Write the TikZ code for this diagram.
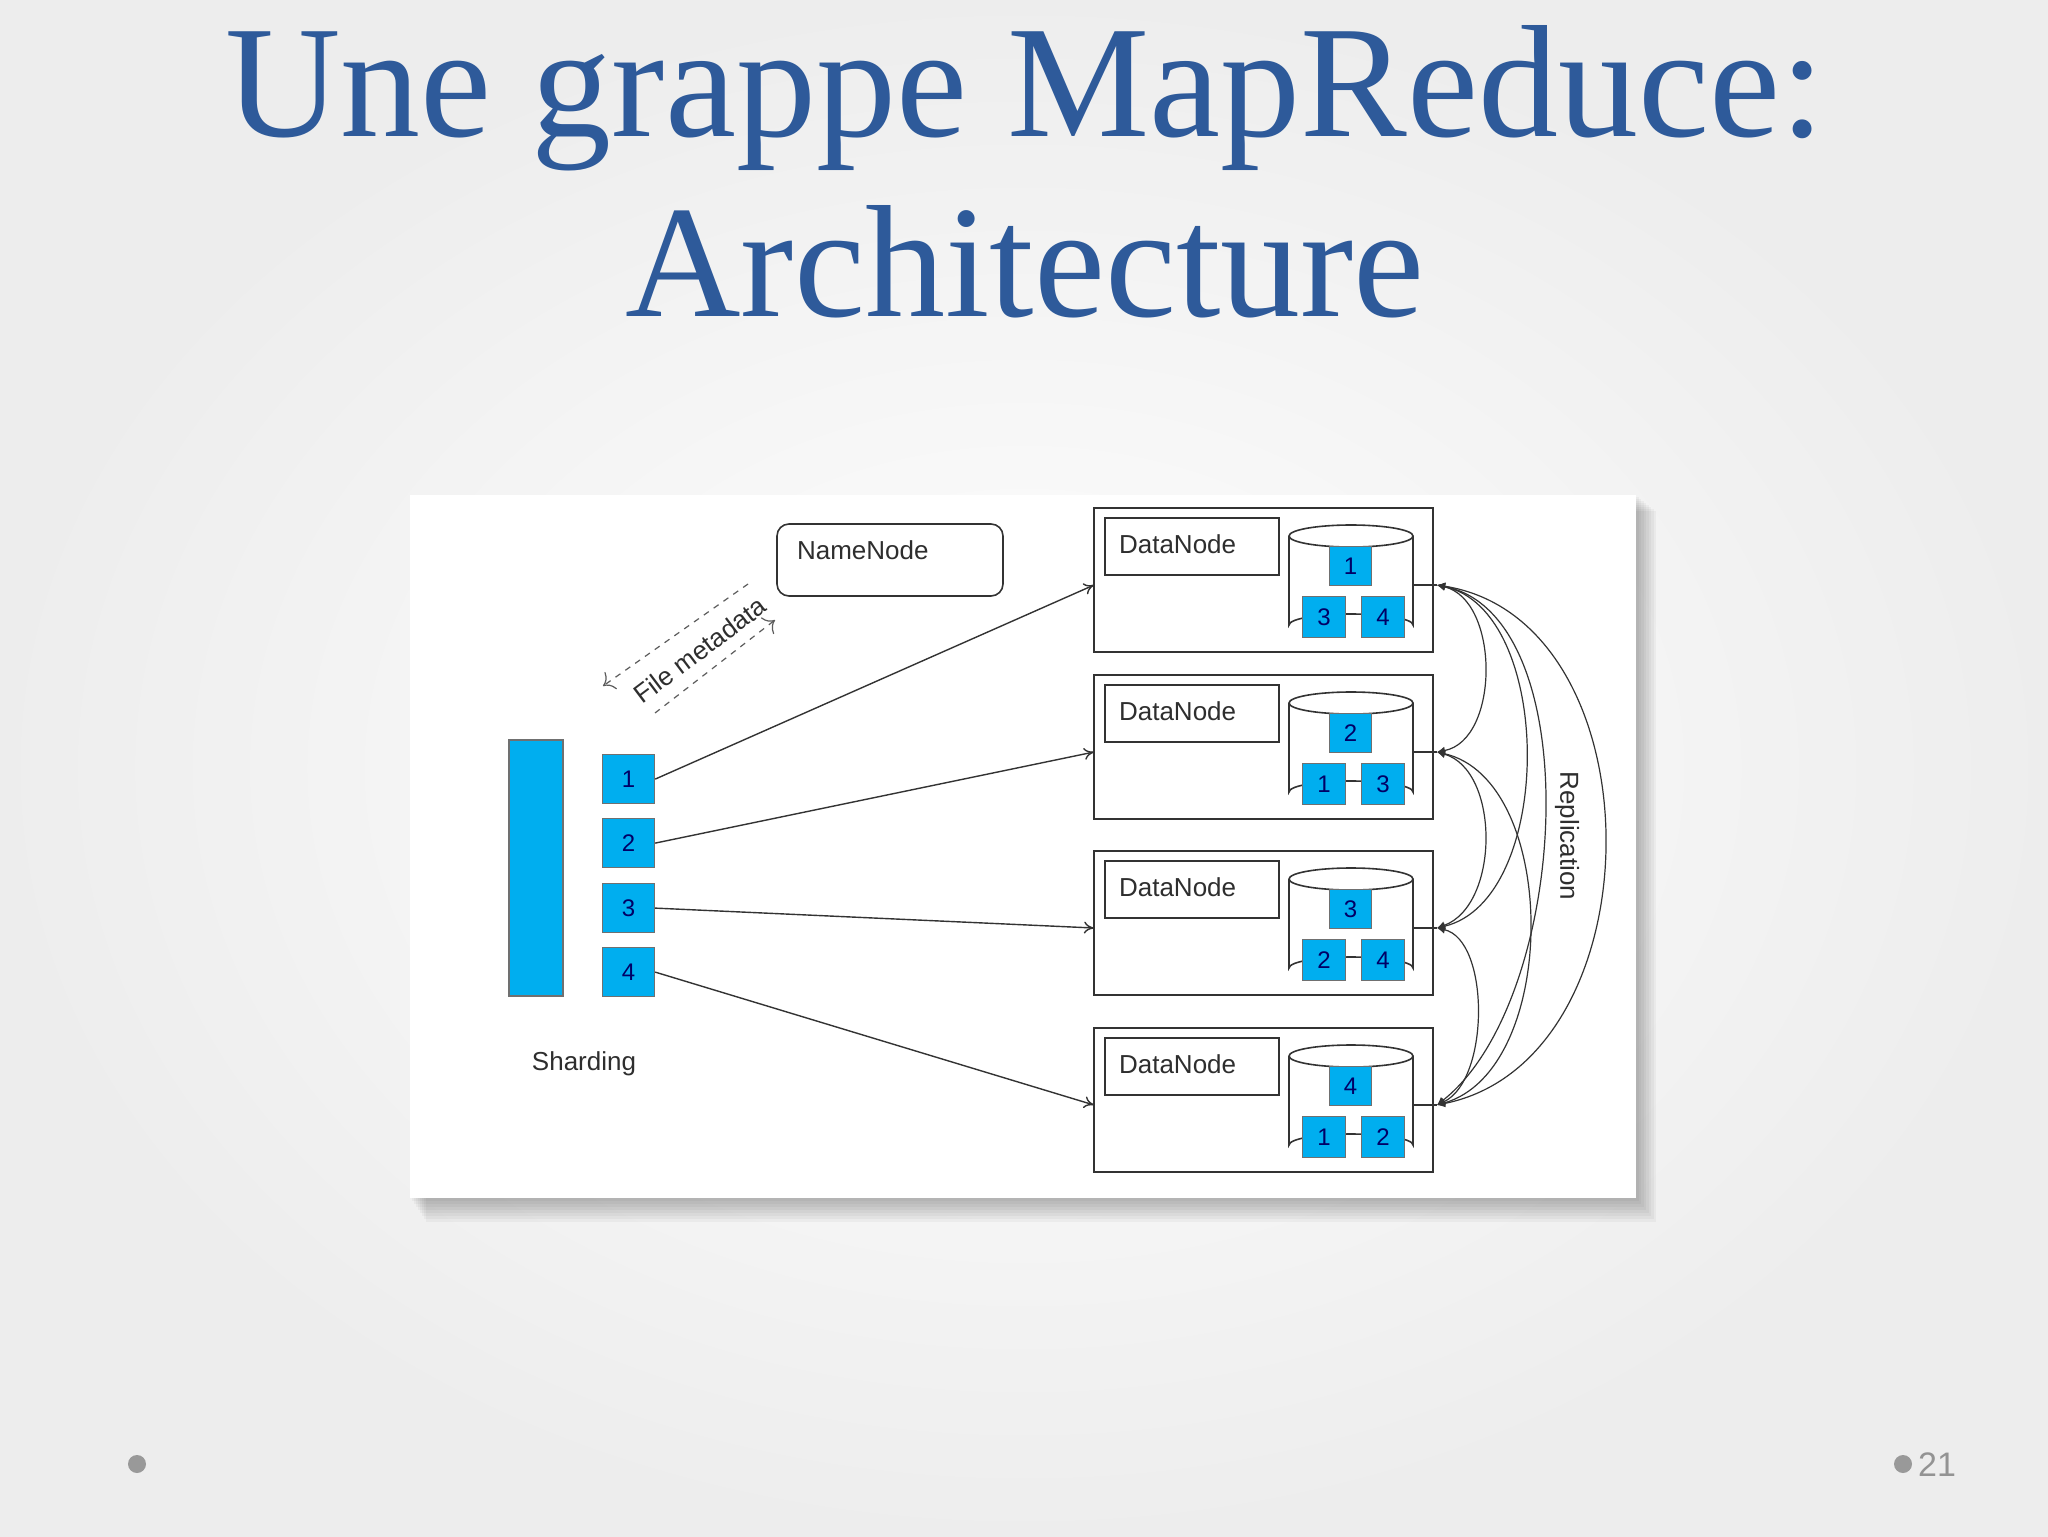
\documentclass[tikz,border=0pt]{standalone}
\usepackage{fontspec}
\setmainfont{Liberation Sans}
\newfontfamily\titlefont{Liberation Serif}
\usetikzlibrary{arrows.meta,shapes.geometric}
\definecolor{titleblue}{HTML}{2E5A9A}
\definecolor{shard}{HTML}{00AEEF}
\definecolor{ink}{HTML}{333333}
\tikzset{
  shardbox/.style={fill=shard,draw=ink!70,line width=0.6pt},
  dnbox/.style={draw=ink,line width=0.8pt},
  conn/.style={draw=ink,line width=0.7pt,-{To[length=5pt,width=6pt]}},
  rep/.style={draw=ink,line width=0.6pt,{Latex[length=4pt,width=4pt]}-{Latex[length=4pt,width=4pt]}},
  lbl/.style={font=\fontsize{13}{15}\selectfont,text=ink!90!black},
  num/.style={font=\fontsize{12}{14}\selectfont,text=blue!40!black}
}
\begin{document}
\begin{tikzpicture}[x=0.5pt,y=-0.5pt]
\useasboundingbox (0,0) rectangle (2048,1536);
\shade[inner color=white,outer color=gray!14] (0,0) rectangle (2048,1536);
% title
\node[font=\titlefont\fontsize{80}{82}\selectfont,text=titleblue] (t1) at (1025,98) {Une grappe MapReduce:};
\node[font=\titlefont\fontsize{80}{82}\selectfont,text=titleblue] (t2) at (1025,262) {Architecture};
% footer
\fill[gray!80] (137,1464) circle (9);
\fill[gray!80] (1903,1464) circle (9);
\node[font=\fontsize{17}{19}\selectfont,text=gray!85] (pg) at (1937,1465) {21};
% panel shadow
\foreach \i in {1,...,8}{\fill[black,opacity=0.035] (410+2*\i,495+2*\i) rectangle (1636+2.5*\i,1198+3*\i);}
\fill[white] (410,495) rectangle (1636,1198);
% sharding
\draw[shardbox] (509,740) rectangle (563,996);
\foreach \n/\y in {1/754,2/818,3/883,4/947}{
  \node[shardbox,minimum width=26pt,minimum height=24.5pt,inner sep=0,anchor=north west,num] (s\n) at (602,\y) {\n};
}
\node[lbl] (shl) at (584,1064) {Sharding};
% namenode
\draw[dnbox,rounded corners=6pt] (777,524) rectangle (1003,596);
\node[lbl,anchor=west] (nn) at (790,550) {NameNode};
% file metadata
\draw[dashed,draw=ink!80,line width=0.6pt,-{To[length=5pt]}] (748,584) -- (603,686);
\draw[dashed,draw=ink!80,line width=0.6pt,-{To[length=5pt]}] (655,713) -- (775,620);
\node[lbl,rotate=37] (fm) at (700,650) {File metadata};
% datanodes
\foreach \k/\t/\a/\b/\c in {1/508/1/3/4,2/675/2/1/3,3/851/3/2/4,4/1028/4/1/2}{
  \draw[dnbox] (1094,\t) rectangle (1433,\t+144);
  \draw[dnbox] (1105,\t+10) rectangle (1279,\t+67);
  \node[lbl,anchor=west] (dl\k) at (1112,\t+36) {DataNode};
  % cylinder
  \draw[dnbox,fill=white] (1289,\t+28) -- (1289,\t+117) arc[start angle=180,end angle=360,x radius=62,y radius=11] -- (1413,\t+28);
  \draw[dnbox,fill=white] (1351,\t+28) ellipse[x radius=62,y radius=11];
  \node[shardbox,minimum width=21pt,minimum height=19.5pt,inner sep=0,anchor=north west,num] (ba\k) at (1329,\t+38) {\a};
  \node[shardbox,minimum width=21.5pt,minimum height=20.5pt,inner sep=0,anchor=north west,num] (bb\k) at (1302,\t+88) {\b};
  \node[shardbox,minimum width=21.5pt,minimum height=20.5pt,inner sep=0,anchor=north west,num] (bc\k) at (1361,\t+88) {\c};
  \coordinate (in\k) at (1094,\t+77);
  \coordinate (cy\k) at (1413,\t+77);
  \coordinate (r\k) at (1437,\t+77);
  \draw[dnbox] (cy\k) -- (r\k);
}
\draw[conn] (s1.east) -- (in1);
\draw[conn] (s2.east) -- (in2);
\draw[conn] (s3.east) -- (in3);
\draw[conn] (s4.east) -- (in4);
% replication
\draw[rep] (r1) .. controls (1500,600) and (1500,740) .. (r2);
\draw[rep] (r2) .. controls (1500,770) and (1500,905) .. (r3);
\draw[rep] (r3) .. controls (1490,940) and (1490,1080) .. (r4);
\draw[rep] (r1) .. controls (1555,610) and (1555,900) .. (r3);
\draw[rep] (r2) .. controls (1560,780) and (1560,1070) .. (r4);
\draw[rep] (r1) .. controls (1660,620) and (1660,1060) .. (r4);
\draw[rep] (r1) .. controls (1590,615) and (1570,1000) .. (r4);
\node[lbl,rotate=-90] (repl) at (1567,836) {Replication};
\end{tikzpicture}
\end{document}
